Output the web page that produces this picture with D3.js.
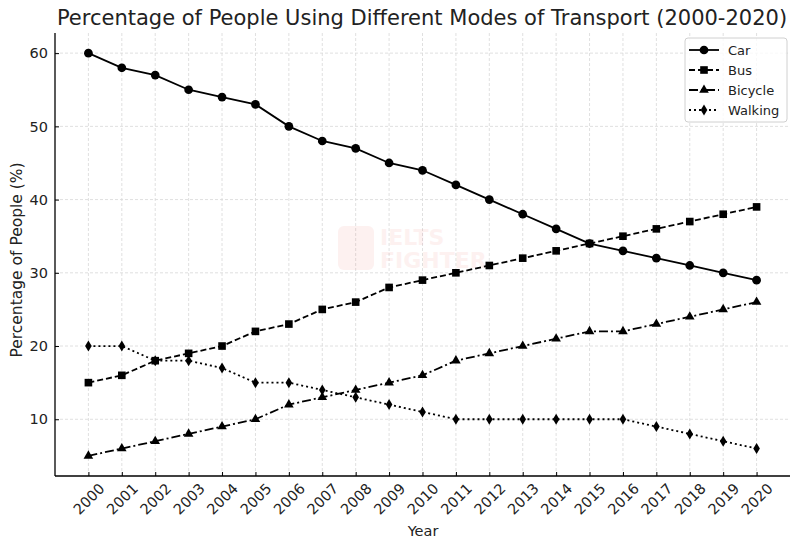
<!DOCTYPE html>
<html>
<head>
<meta charset="utf-8">
<script src="https://cdn.jsdelivr.net/npm/d3@7"></script>
<style>
  body { margin: 0; background: #fff; }
  svg { font-family: "DejaVu Sans", sans-serif; }
</style>
</head>
<body>
<svg id="chart" width="800" height="546"></svg>
<script>
// data
let years = d3.range(2000, 2021)
let car = [60, 58, 57, 55, 54, 53, 50, 48, 47, 45, 44, 42, 40, 38, 36, 34, 33, 32, 31, 30, 29]
let bus = [15, 16, 18, 19, 20, 22, 23, 25, 26, 28, 29, 30, 31, 32, 33, 34, 35, 36, 37, 38, 39]
let bicycle = [5, 6, 7, 8, 9, 10, 12, 13, 14, 15, 16, 18, 19, 20, 21, 22, 22, 23, 24, 25, 26]
let walking = [20, 20, 18, 18, 17, 15, 15, 14, 13, 12, 11, 10, 10, 10, 10, 10, 10, 9, 8, 7, 6]
let yTicks = [10, 20, 30, 40, 50, 60]

let series = [
  { name: 'Car', values: car, dash: null, marker: d3.symbolCircle },
  { name: 'Bus', values: bus, dash: '6,3', marker: d3.symbolSquare },
  { name: 'Bicycle', values: bicycle, dash: '9,3,2,3', marker: d3.symbolTriangle },
  { name: 'Walking', values: walking, dash: '2,3', marker: 'diamond' }
]

let svg = d3.select('#chart')
let plotLeft = 55, plotRight = 790, plotTop = 33, plotBottom = 476

let x = d3.scaleLinear().domain([1999, 2021]).range([plotLeft, plotRight])
let y = d3.scaleLinear().domain([2.25, 62.75]).range([plotBottom, plotTop])

// grid
svg.append('g')
  .selectAll('line')
  .data(years)
  .join('line')
  .attr('x1', d => x(d)).attr('x2', d => x(d))
  .attr('y1', plotTop).attr('y2', plotBottom)
  .style('stroke', '#d8d8d8')
  .style('stroke-dasharray', '3,2')
  .style('stroke-width', 0.8)

svg.append('g')
  .selectAll('line')
  .data(yTicks)
  .join('line')
  .attr('x1', plotLeft).attr('x2', plotRight)
  .attr('y1', d => y(d)).attr('y2', d => y(d))
  .style('stroke', '#d8d8d8')
  .style('stroke-dasharray', '3,2')
  .style('stroke-width', 0.8)

// watermark
let wm = svg.append('g').style('fill', '#e8453c').style('opacity', 0.07)
  .style('font-weight', 'bold')
wm.append('text').attr('x', 380).attr('y', 245).style('font-size', '22px').text('IELTS')
wm.append('text').attr('x', 380).attr('y', 268).style('font-size', '22px').text('FIGHTER')
wm.append('rect').attr('x', 338).attr('y', 226).attr('width', 36).attr('height', 44).attr('rx', 6)

// axes
let xAxis = svg.append('g')
  .attr('transform', `translate(0,${plotBottom})`)
  .call(d3.axisBottom(x).tickValues(years).tickFormat(d3.format('d')).tickSize(-4).tickPadding(0))
xAxis.attr('font-family', null)
xAxis.select('.domain').attr('d', `M${plotLeft},0H${plotRight}`).style('stroke-width', 1.3)
xAxis.selectAll('.tick line').style('stroke-width', 1)
xAxis.selectAll('.tick text')
  .style('font-size', '14.5px')
  .style('fill', '#222')
  .attr('text-anchor', 'middle')
  .attr('dominant-baseline', 'central')
  .attr('y', 0)
  .attr('dy', null)
  .attr('transform', 'translate(0,23) rotate(-45)')

let yAxis = svg.append('g')
  .attr('transform', `translate(${plotLeft},0)`)
  .call(d3.axisLeft(y).tickValues(yTicks).tickSize(-4).tickPadding(7))
yAxis.attr('font-family', null)
yAxis.select('.domain').attr('d', `M0,${plotTop}V${plotBottom}`).style('stroke-width', 1.3)
yAxis.selectAll('.tick text').style('font-size', '14.5px').style('fill', '#222')

// labels
svg.append('text')
  .attr('x', 422).attr('y', 25)
  .attr('text-anchor', 'middle')
  .style('font-size', '21px')
  .style('fill', '#222')
  .text('Percentage of People Using Different Modes of Transport (2000-2020)')

svg.append('text')
  .attr('x', 423).attr('y', 531)
  .attr('text-anchor', 'middle')
  .attr('dominant-baseline', 'central')
  .style('font-size', '14.5px')
  .style('fill', '#222')
  .text('Year')

svg.append('text')
  .attr('transform', 'translate(17,260) rotate(-90)')
  .attr('text-anchor', 'middle')
  .attr('dominant-baseline', 'central')
  .style('font-size', '15.5px')
  .style('fill', '#222')
  .text('Percentage of People (%)')

// markers
function markerPath(m) {
  if (m === 'diamond') return 'M0,-5.5L3.3,0L0,5.5L-3.3,0Z'
  let size = m === d3.symbolCircle ? 60 : m === d3.symbolSquare ? 58 : 40
  return d3.symbol(m, size)()
}

let line = d3.line().x((d, i) => x(years[i])).y(d => y(d))

let g = svg.append('g')
series.forEach(s => {
  g.append('path')
    .datum(s.values)
    .attr('d', line)
    .style('fill', 'none')
    .style('stroke', '#000')
    .style('stroke-width', 1.8)
    .style('stroke-dasharray', s.dash)
  g.append('g')
    .selectAll('path')
    .data(s.values)
    .join('path')
    .attr('transform', (d, i) => `translate(${x(years[i])},${y(d)})`)
    .attr('d', markerPath(s.marker))
    .style('fill', '#000')
})

// legend
let legend = svg.append('g').attr('transform', 'translate(685,38)')
legend.append('rect')
  .attr('width', 102).attr('height', 84).attr('rx', 3)
  .style('fill', '#fff').style('fill-opacity', 0.8)
  .style('stroke', '#d0d0d0')
legend.selectAll('g')
  .data(series)
  .join('g')
  .attr('transform', (d, i) => `translate(0,${12 + i * 20})`)
  .each(function (s) {
    let item = d3.select(this)
    item.append('line')
      .attr('x1', 4).attr('x2', 34)
      .style('stroke', '#000').style('stroke-width', 1.8)
      .style('stroke-dasharray', s.dash)
    item.append('path')
      .attr('transform', 'translate(19,0)')
      .attr('d', markerPath(s.marker))
    item.append('text')
      .attr('x', 43)
      .attr('dominant-baseline', 'central')
      .style('font-size', '13px')
      .style('fill', '#222')
      .text(s.name)
  })
</script>
</body>
</html>
